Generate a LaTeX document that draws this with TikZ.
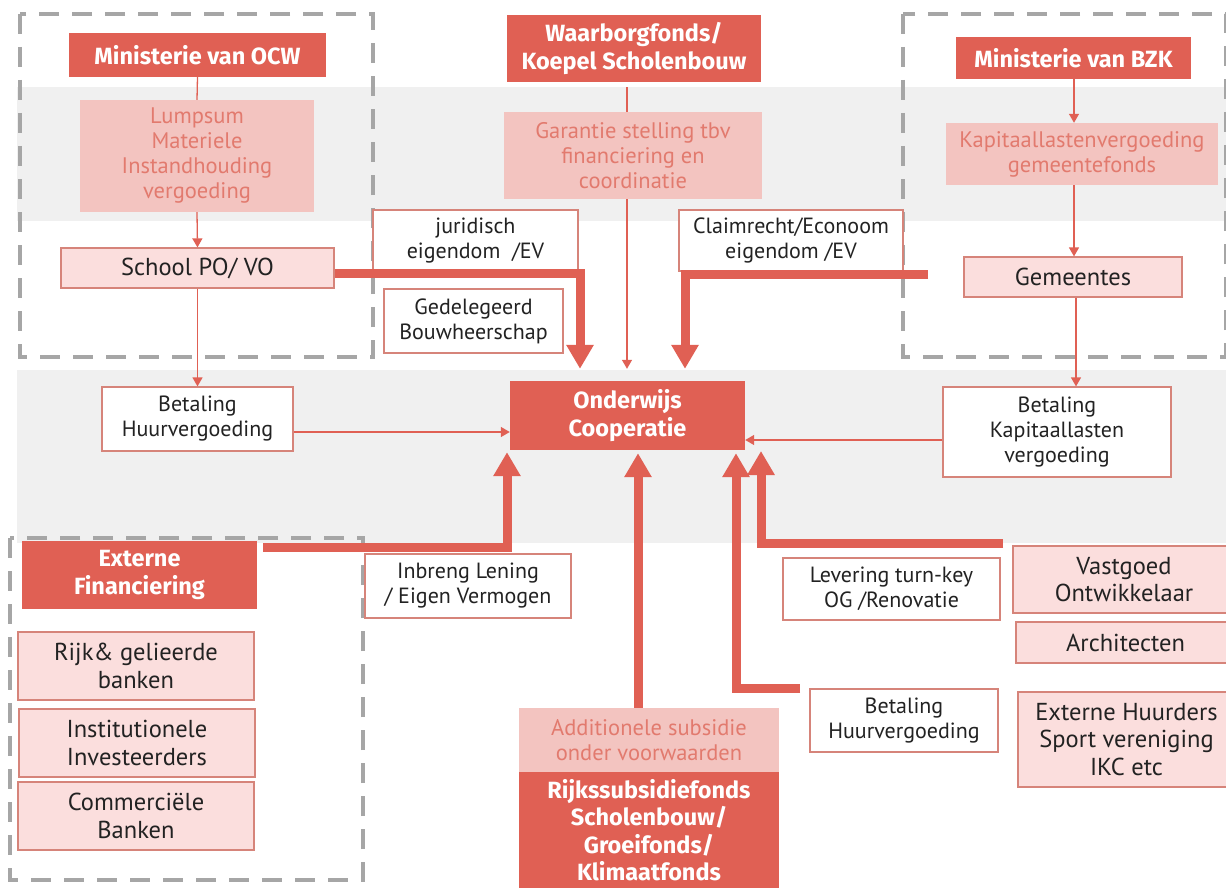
\documentclass[tikz,border=0pt]{standalone}
\usepackage{fontspec}
\setmainfont{PT Sans}
\newfontfamily\hfont{Fira Sans}
\usetikzlibrary{arrows.meta}
\definecolor{dred}{RGB}{224,96,84}
\definecolor{lpink}{RGB}{243,196,192}
\definecolor{ppink}{RGB}{251,222,221}
\definecolor{salm}{RGB}{226,122,110}
\definecolor{bord}{RGB}{214,132,122}
\definecolor{band}{RGB}{240,240,240}
\definecolor{dgray}{RGB}{166,166,166}
\definecolor{txt}{RGB}{34,34,34}
\begin{document}
\begin{tikzpicture}[x=1pt,y=-1pt,
  every node/.style={inner sep=0pt, align=center},
  hdr/.style={fill=dred, text=white, font=\hfont\bfseries\fontsize{23.5}{27.5}\selectfont},
  subbox/.style={fill=lpink, text=salm, font=\fontsize{22.5}{25}\selectfont},
  pbox/.style={fill=ppink, draw=bord, line width=1.2pt, text=txt, font=\fontsize{24.5}{27.5}\selectfont},
  wbox/.style={fill=white, draw=bord, line width=1.2pt, text=txt, font=\fontsize{22}{25}\selectfont},
  plain/.style={draw=dred, line width=1.3pt},
  thinarr/.style={draw=dred, line width=1.3pt, -{Triangle[width=10pt,length=9pt]}},
  thickarr/.style={draw=dred, line width=9pt, -{Triangle[width=26pt,length=24pt]}},
  dbox/.style={draw=dgray, line width=4pt, dash pattern=on 20pt off 13pt},
]
\useasboundingbox (0,0) rectangle (1226,888);
\clip (0,0) rectangle (1226,888);
\fill[white] (0,0) rectangle (1226,888);
% bands
\fill[band] (17,87) rectangle (1226,221);
\fill[band] (17,370) rectangle (1226,543);
% dashed groups
\draw[dbox] (20,14) rectangle (373,357);
\draw[dbox] (903,14) rectangle (1226,357);
\draw[dbox] (10,538) rectangle (363,880);

% nodes
\node[hdr, minimum width=257pt, minimum height=44pt] (ocw) at (197.5,55) {Ministerie van OCW};
\node[subbox, minimum width=234pt, minimum height=112pt] (lump) at (197,156) {Lumpsum\\Materiele\\Instandhouding\\vergoeding};
\node[pbox, minimum width=273pt, minimum height=40pt] (school) at (197.5,268) {School PO/ VO};
\node[wbox, minimum width=191pt, minimum height=64pt] (bhl) at (197.5,419) {Betaling\\Huurvergoeding};

\node[hdr, minimum width=254pt, minimum height=67pt] (waar) at (634,48.5) {Waarborgfonds/\\Koepel Scholenbouw};
\node[subbox, minimum width=258pt, minimum height=87pt] (gar) at (633,155.5) {Garantie stelling tbv\\financiering en\\coordinatie};
\node[wbox, minimum width=205pt, minimum height=62pt] (jur) at (475.5,241) {juridisch\\eigendom\ \ /EV};
\node[wbox, minimum width=179pt, minimum height=64pt] (ged) at (473.5,321) {Gedelegeerd\\Bouwheerschap};
\node[wbox, minimum width=224pt, minimum height=61pt] (claim) at (791,240.5) {Claimrecht/Econoom\\eigendom /EV};

\node[hdr, minimum width=235pt, minimum height=42pt] (bzk) at (1073.5,58) {Ministerie van BZK};
\node[subbox, minimum width=272pt, minimum height=62pt] (kap) at (1082,154) {Kapitaallastenvergoeding\\gemeentefonds};
\node[pbox, minimum width=218pt, minimum height=40pt] (gem) at (1073,277) {Gemeentes};
\node[wbox, minimum width=228pt, minimum height=90pt] (bkl) at (1057,432) {Betaling\\Kapitaallasten\\vergoeding};

\node[hdr, minimum width=235pt, minimum height=69pt] (ow) at (627.5,415.5) {Onderwijs\\Cooperatie};

\node[hdr, minimum width=235pt, minimum height=68pt] (ext) at (139.5,575) {Externe\\Financiering};
\node[wbox, minimum width=206pt, minimum height=64pt] (inb) at (468,586) {Inbreng Lening\\/ Eigen Vermogen};
\node[pbox, minimum width=236pt, minimum height=68pt] (rijk) at (136,666) {Rijk\& gelieerde\\banken};
\node[pbox, minimum width=236pt, minimum height=68pt] (inst) at (137,743) {Institutionele\\Investeerders};
\node[pbox, minimum width=236pt, minimum height=68pt] (comm) at (136,816) {Commerciële\\Banken};

\node[subbox, minimum width=260pt, minimum height=64pt] (add) at (649,740) {Additionele subsidie\\onder voorwaarden};
\node[hdr, minimum width=260pt, minimum height=116pt] (rsf) at (649,830) {\fontsize{23.5}{27}\selectfont Rijkssubsidiefonds\\Scholenbouw/\\Groeifonds/\\Klimaatfonds};

\node[wbox, minimum width=217pt, minimum height=62pt] (lev) at (891.5,589) {Levering turn-key\\OG /Renovatie};
\node[pbox, minimum width=222pt, minimum height=67pt] (vast) at (1124,579.5) {Vastgoed\\Ontwikkelaar};
\node[pbox, minimum width=219pt, minimum height=41pt] (arch) at (1125.5,642.5) {Architecten};
\node[pbox, minimum width=217pt, minimum height=95pt] (exth) at (1126.5,739.5) {Externe Huurders\\Sport vereniging\\IKC etc};
\node[wbox, minimum width=188pt, minimum height=63pt] (bhr) at (904,720.5) {Betaling\\Huurvergoeding};

% background strip below Rijkssubsidiefonds to the page edge
\fill[dred] (rsf.south west) rectangle ([yshift=-10pt]rsf.south east);

% helper coordinates
\coordinate (gx) at (627,0);
\coordinate (kx) at (1074,0);
\coordinate (gmx) at (1076,0);
\coordinate (hy) at (0,432);
\coordinate (ky) at (0,440);
\coordinate (ax) at (638,0);
\coordinate (c1) at (580,273);
\coordinate (c2s) at (928,274);
\coordinate (c2) at (685,274);
\coordinate (c3s) at (263,547);
\coordinate (c3) at (507,547);
\coordinate (c5s) at (800,688);
\coordinate (c5) at (736,688);
\coordinate (c6s) at (1003,543);
\coordinate (c6) at (761,543);
\coordinate (c6e) at (761,451);

% thin connectors
\draw[plain] (ocw.south) -- (lump.north);
\draw[thinarr] (lump.south) -- (school.north);
\draw[thinarr] (school.south) -- (bhl.north);
\draw[thinarr] (bhl.east |- hy) -- (ow.west |- hy);
\draw[plain, shorten <=5pt] (waar.south -| gx) -- (gar.north -| gx);
\draw[thinarr, shorten >=12pt] (gar.south -| gx) -- (ow.north -| gx);
\draw[thinarr] (bzk.south -| kx) -- (kap.north -| kx);
\draw[thinarr] (kap.south -| kx) -- (gem.north -| kx);
\draw[thinarr] (gem.south -| gmx) -- (bkl.north -| gmx);
\draw[thinarr] (bkl.west |- ky) -- (ow.east |- ky);

% thick connectors
\draw[thickarr, shorten >=12pt] (school.east |- c1) -- (c1) -- (c1 |- ow.north);
\draw[thickarr, shorten >=12pt] (c2s) -- (c2) -- (c2 |- ow.north);
\draw[thickarr, shorten >=2pt] (c3s) -- (c3) -- (c3 |- ow.south);
\draw[thickarr, shorten >=3pt] (add.north -| ax) -- (ow.south -| ax);
\draw[thickarr, shorten >=3pt] (c5s) -- (c5) -- (c5 |- ow.south);
\draw[thickarr] (c6s) -- (c6) -- (c6e);
\end{tikzpicture}
\end{document}
